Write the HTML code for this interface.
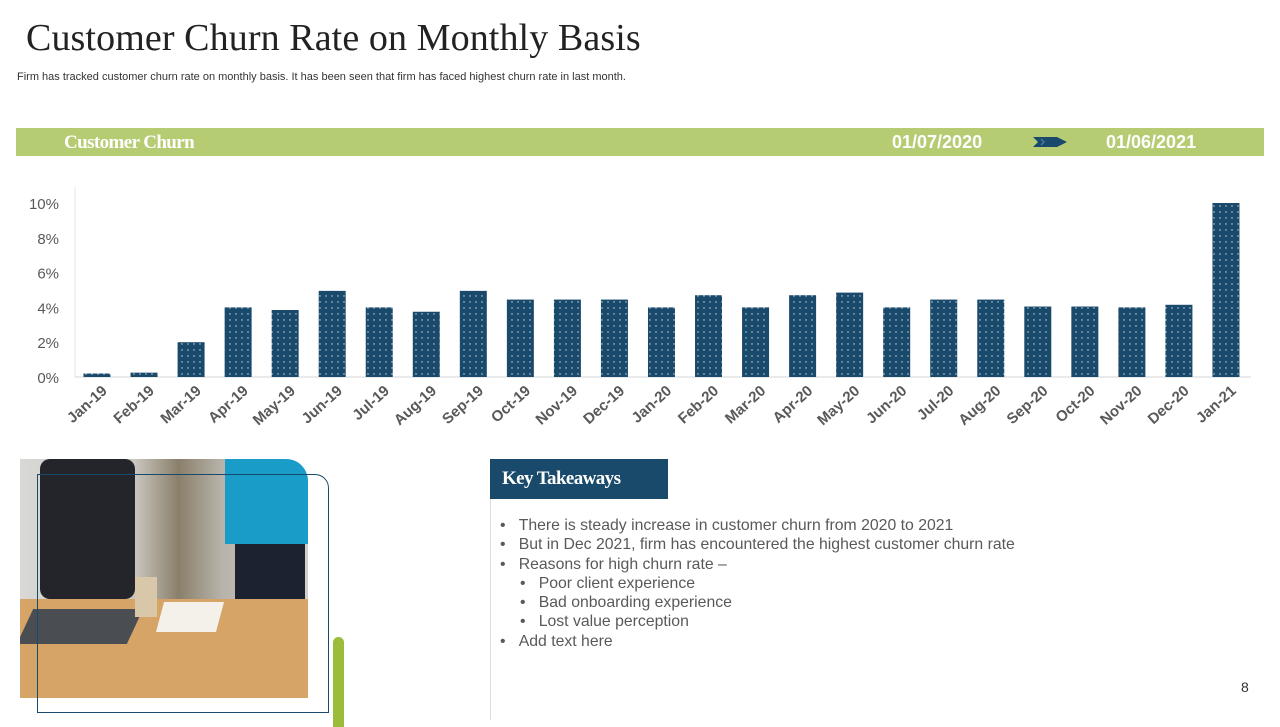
<!DOCTYPE html>
<html><head><meta charset="utf-8"><style>
body{margin:0;width:1280px;height:720px;background:#fff;position:relative;overflow:hidden;font-family:"Liberation Sans",sans-serif}
.abs{position:absolute}
</style></head><body>
<div class="abs" style="left:26px;top:16px;font-family:'Liberation Serif',serif;font-size:38px;color:#222;letter-spacing:0.1px">Customer Churn Rate on Monthly Basis</div>
<div class="abs" style="left:17px;top:71px;font-size:11px;color:#333">Firm has tracked customer churn rate on monthly basis. It has been seen that firm has faced highest churn rate in last month.</div>
<div class="abs" style="left:16px;top:128px;width:1248px;height:28px;background:#b6cc73"></div>
<div class="abs" style="left:64px;top:132px;font-family:'Liberation Serif',serif;font-size:19px;font-weight:bold;color:#fff;letter-spacing:-0.6px">Customer Churn</div>
<div class="abs" style="left:892px;top:132px;font-size:18px;font-weight:bold;color:#fff">01/07/2020</div>
<svg class="abs" style="left:1033px;top:137px" width="34" height="10"><polygon points="0,0 24,0 34,5 24,10 0,10 5,5" fill="#1a4a6b"/><polyline points="8,2 11,5 8,8 M15,2 18,5 15,8" fill="none" stroke="#5a8ab0" stroke-width="1"/></svg>
<div class="abs" style="left:1106px;top:132px;font-size:18px;font-weight:bold;color:#fff">01/06/2021</div>

<svg id="chart" class="abs" style="left:0;top:0" width="1280" height="450">
<defs><pattern id="dots" width="6" height="6" patternUnits="userSpaceOnUse"><rect width="6" height="6" fill="#1a4a6b"/><circle cx="2" cy="2" r="0.7" fill="#cfdbe6"/></pattern></defs>
</svg>
<script>
const categories=["Jan-19","Feb-19","Mar-19","Apr-19","May-19","Jun-19","Jul-19","Aug-19","Sep-19","Oct-19","Nov-19","Dec-19","Jan-20","Feb-20","Mar-20","Apr-20","May-20","Jun-20","Jul-20","Aug-20","Sep-20","Oct-20","Nov-20","Dec-20","Jan-21"];
const churn=[0.2,0.25,2.0,4.0,3.85,4.95,4.0,3.75,4.95,4.45,4.45,4.45,4.0,4.7,4.0,4.7,4.85,4.0,4.45,4.45,4.05,4.05,4.0,4.15,10.0];
const yTicks=[0,2,4,6,8,10];
const svg=document.getElementById('chart');const NS='http://www.w3.org/2000/svg';
const y=v=>377-v*17.4;
const x=i=>97+i*47.04;
function mk(t,a){const e=document.createElementNS(NS,t);for(const k in a)e.setAttribute(k,a[k]);svg.appendChild(e);return e;}
let ax=mk('line',{x1:75,y1:187,x2:75,y2:377,stroke:'#e4e4e4'});

let bl=mk('line',{x1:75,y1:377,x2:1251,y2:377,stroke:'#d4d4d4'});

yTicks.forEach(v=>{const t=mk('text',{x:59,y:y(v)+6,'text-anchor':'end','font-size':15,fill:'#595959','font-family':'Liberation Sans, sans-serif'});t.textContent=v+'%';
});
categories.forEach((c,i)=>{const r=mk('rect',{x:x(i)-13.5,y:y(churn[i]),width:27,height:churn[i]*17.4,fill:'url(#dots)'});

const t=mk('text',{x:x(i)+11,y:392,'text-anchor':'end','font-size':15,'font-weight':'bold',fill:'#595959','font-family':'Liberation Sans, sans-serif',transform:`rotate(-42 ${x(i)+11} 392)`});t.textContent=c;
});
</script>

<div class="abs" style="left:20px;top:459px;width:288px;height:239px;border-top-right-radius:22px;overflow:hidden;background:#e8e4dc">
 <div class="abs" style="left:0;top:0;width:288px;height:150px;background:linear-gradient(90deg,#d8d8d6 0%,#c9c6bf 40%,#8a7f6a 55%,#b7b3aa 70%,#d0d0cc 100%)"></div>
 <div class="abs" style="left:20px;top:0;width:95px;height:140px;background:#23252b;border-radius:10px"></div>
 <div class="abs" style="left:205px;top:0;width:83px;height:85px;background:#1a9cc9"></div>
 <div class="abs" style="left:215px;top:85px;width:70px;height:60px;background:#1d2230"></div>
 <div class="abs" style="left:0;top:140px;width:288px;height:99px;background:#d7a468"></div>
 <div class="abs" style="left:5px;top:150px;width:110px;height:35px;background:#4a4d52;transform:skewX(-25deg)"></div>
 <div class="abs" style="left:140px;top:143px;width:60px;height:30px;background:#f3f1ea;transform:skewX(-15deg)"></div>
 <div class="abs" style="left:115px;top:118px;width:22px;height:40px;background:#d9c7aa"></div>
</div>
<div class="abs" style="left:37px;top:474px;width:290px;height:237px;border:1px solid #1a4a6b;border-top-right-radius:14px"></div>
<div class="abs" style="left:333px;top:637px;width:11px;height:90px;background:#9bbb3a;border-radius:6px 6px 0 0"></div>

<div class="abs" style="left:490px;top:499px;width:1px;height:221px;background:#ddd"></div>
<div class="abs" style="left:490px;top:459px;width:178px;height:40px;background:#1a4a6b"></div>
<div class="abs" style="left:502px;top:468px;font-family:'Liberation Serif',serif;font-size:19px;font-weight:bold;color:#fff;letter-spacing:-0.6px">Key Takeaways</div>
<div class="abs" style="left:500px;top:516px;font-size:15.8px;color:#595959;line-height:19.3px">
<div>•&nbsp;&nbsp;&nbsp;There is steady increase in customer churn from 2020 to 2021</div>
<div>•&nbsp;&nbsp;&nbsp;But in Dec 2021, firm has encountered the highest customer churn rate</div>
<div>•&nbsp;&nbsp;&nbsp;Reasons for high churn rate –</div>
<div style="padding-left:20px">•&nbsp;&nbsp;&nbsp;Poor client experience</div>
<div style="padding-left:20px">•&nbsp;&nbsp;&nbsp;Bad onboarding experience</div>
<div style="padding-left:20px">•&nbsp;&nbsp;&nbsp;Lost value perception</div>
<div>•&nbsp;&nbsp;&nbsp;Add text here</div>
</div>
<div class="abs" style="left:1241px;top:679px;font-size:14px;color:#333">8</div>
</body></html>
